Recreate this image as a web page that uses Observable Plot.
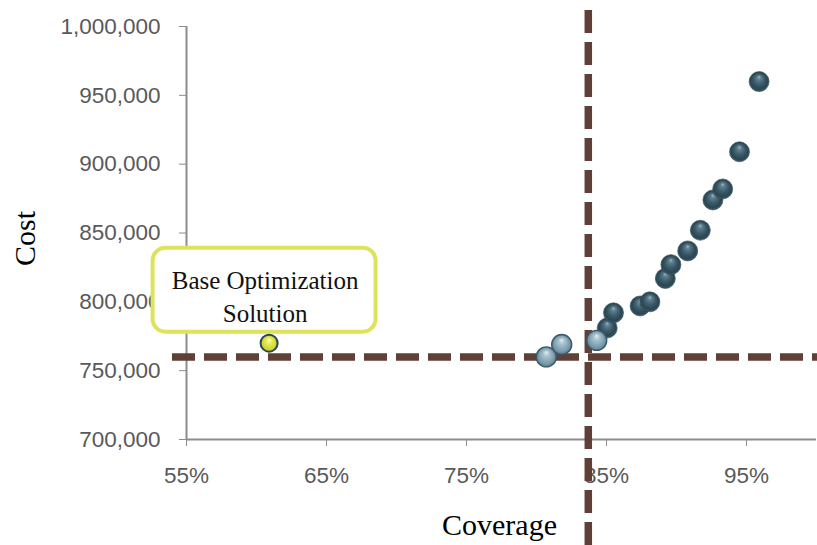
<!DOCTYPE html>
<html>
<head>
<meta charset="utf-8">
<script src="https://cdn.jsdelivr.net/npm/d3@7"></script>
<script src="https://cdn.jsdelivr.net/npm/@observablehq/plot@0.6"></script>
<style>
  html, body { margin: 0; padding: 0; background: #fff; }
  #chart svg { display: block; }
  [aria-label$="axis tick"] { color: #8c8c8c; }
  g[aria-label="guides"] { filter: drop-shadow(2px 4px 3px rgba(0,0,0,0.35)); }
  g[aria-label="options"], g[aria-label="base"] { filter: drop-shadow(2px 3px 2.5px rgba(0,0,0,0.4)); }
  g[aria-label="callout"] { filter: drop-shadow(1px 2px 2px rgba(0,0,0,0.15)); }
</style>
</head>
<body>
<!-- sphere shading used by the dots -->
<svg width="0" height="0" style="position:absolute">
  <defs>
    <radialGradient id="sphereDark" cx="50%" cy="50%" r="50%" fx="50%" fy="26%">
      <stop offset="0" stop-color="#a0b9c4"/>
      <stop offset="0.2" stop-color="#5f7f8d"/>
      <stop offset="0.55" stop-color="#3b5a69"/>
      <stop offset="0.85" stop-color="#2a4452"/>
      <stop offset="1" stop-color="#45636f"/>
    </radialGradient>
    <radialGradient id="sphereLight" cx="50%" cy="50%" r="50%" fx="50%" fy="26%">
      <stop offset="0" stop-color="#e2eef3"/>
      <stop offset="0.3" stop-color="#a9c3d0"/>
      <stop offset="0.75" stop-color="#7e9dae"/>
      <stop offset="1" stop-color="#5f7e8f"/>
    </radialGradient>
    <radialGradient id="sphereYellow" cx="50%" cy="50%" r="50%" fx="50%" fy="30%">
      <stop offset="0" stop-color="#fbfdc4"/>
      <stop offset="0.4" stop-color="#e3ea4e"/>
      <stop offset="1" stop-color="#c4cc2a"/>
    </radialGradient>
  </defs>
</svg>
<div id="chart"></div>
<script>
// Alternative solutions: coverage share and total cost
const coverage = [0.807, 0.818, 0.843, 0.8505, 0.855, 0.874, 0.881, 0.892, 0.896, 0.908, 0.917, 0.926, 0.933, 0.945, 0.959];
const cost     = [760000, 769000, 772000, 781000, 792000, 797000, 800000, 817000, 827000, 837000, 852000, 874000, 882000, 909000, 960000];
// solutions close to the target thresholds are shaded lighter
const tier     = ["near", "near", "near", "far", "far", "far", "far", "far", "far", "far", "far", "far", "far", "far", "far"];

// Base optimization solution
const baseCoverage = 0.609;
const baseCost = 770000;
const baseLabel = "Base Optimization\nSolution";

// Threshold guides
const targetCoverage = 0.837;
const budgetCost = 760000;

// Axis ticks
const xTicks = [0.55, 0.65, 0.75, 0.85, 0.95];
const yTicks = [700000, 750000, 800000, 850000, 900000, 950000, 1000000];

const solutions = coverage.map((c, i) => ({coverage: c, cost: cost[i], tier: tier[i]}));
const base = [{coverage: baseCoverage, cost: baseCost, label: baseLabel}];

const serif = "'Liberation Serif', 'DejaVu Serif', serif";
const guideColor = "#5e4036";
const axisColor = "#8c8c8c";

const chart = Plot.plot({
  width: 817,
  height: 545,
  marginLeft: 186,
  marginRight: 1,
  marginTop: 26,
  marginBottom: 106,
  style: {
    fontFamily: "'Liberation Sans', Arial, sans-serif",
    fontSize: "22.5px",
    color: "#595959",
    background: "#fff",
    overflow: "visible"
  },
  x: {
    domain: [0.55, 1.0],
    ticks: xTicks,
    tickFormat: d3.format(".0%"),
    tickSize: 7,
    tickPadding: 21,
    label: null
  },
  y: {
    domain: [700000, 1000000],
    ticks: yTicks,
    tickFormat: d3.format(","),
    tickSize: 7,
    tickPadding: 19,
    label: null
  },
  marks: [
    // axis lines
    Plot.ruleX([0.55], {y1: 700000, y2: 1000000, stroke: axisColor, strokeWidth: 2}),
    Plot.ruleY([700000], {x1: 0.55, x2: 1.0, stroke: axisColor, strokeWidth: 2}),
    // dashed threshold guides, running past the frame
    Plot.ruleY([budgetCost], {
      x1: 0.54, x2: 1.002,
      stroke: guideColor, strokeWidth: 7.5, strokeDasharray: "23,9",
      ariaLabel: "guides"
    }),
    Plot.ruleX([targetCoverage], {
      y1: 623000, y2: 1014000,
      stroke: guideColor, strokeWidth: 7.5, strokeDasharray: "23,9",
      ariaLabel: "guides"
    }),
    // callout box around the base solution label
    Plot.rect(base, {
      x1: "coverage", x2: "coverage", y1: "cost", y2: "cost",
      insetLeft: -116, insetRight: -107, insetTop: -95, insetBottom: 11,
      rx: 13, ry: 13,
      fill: "#fff", stroke: "#dde45c", strokeWidth: 4,
      ariaLabel: "callout"
    }),
    Plot.text(base, {
      x: "coverage", y: "cost", text: "label",
      dx: -4, dy: -48, lineAnchor: "middle", lineHeight: 1.32,
      fontFamily: serif, fontSize: 25, fill: "#111"
    }),
    // solutions
    Plot.dot(solutions.filter(d => d.tier === "far"), {
      x: "coverage", y: "cost", r: 10,
      fill: "url(#sphereDark)", stroke: "#2a4350", strokeWidth: 0.6,
      ariaLabel: "options"
    }),
    Plot.dot(solutions.filter(d => d.tier === "near"), {
      x: "coverage", y: "cost", r: 10,
      fill: "url(#sphereLight)", stroke: "#3c5866", strokeWidth: 1.4,
      ariaLabel: "options"
    }),
    Plot.dot(base, {
      x: "coverage", y: "cost", r: 8.5,
      fill: "url(#sphereYellow)", stroke: "#2e4651", strokeWidth: 2,
      ariaLabel: "base"
    }),
    // axis titles
    Plot.text(["Coverage"], {
      frameAnchor: "bottom", lineAnchor: "top", dy: 74, dx: -2,
      fontFamily: serif, fontSize: 30, fill: "#000"
    }),
    Plot.text(["Cost"], {
      frameAnchor: "left", rotate: -90, lineAnchor: "top", dx: -173, dy: 33,
      fontFamily: serif, fontSize: 30, fill: "#000"
    })
  ]
});

document.getElementById("chart").appendChild(chart);
</script>
</body>
</html>
